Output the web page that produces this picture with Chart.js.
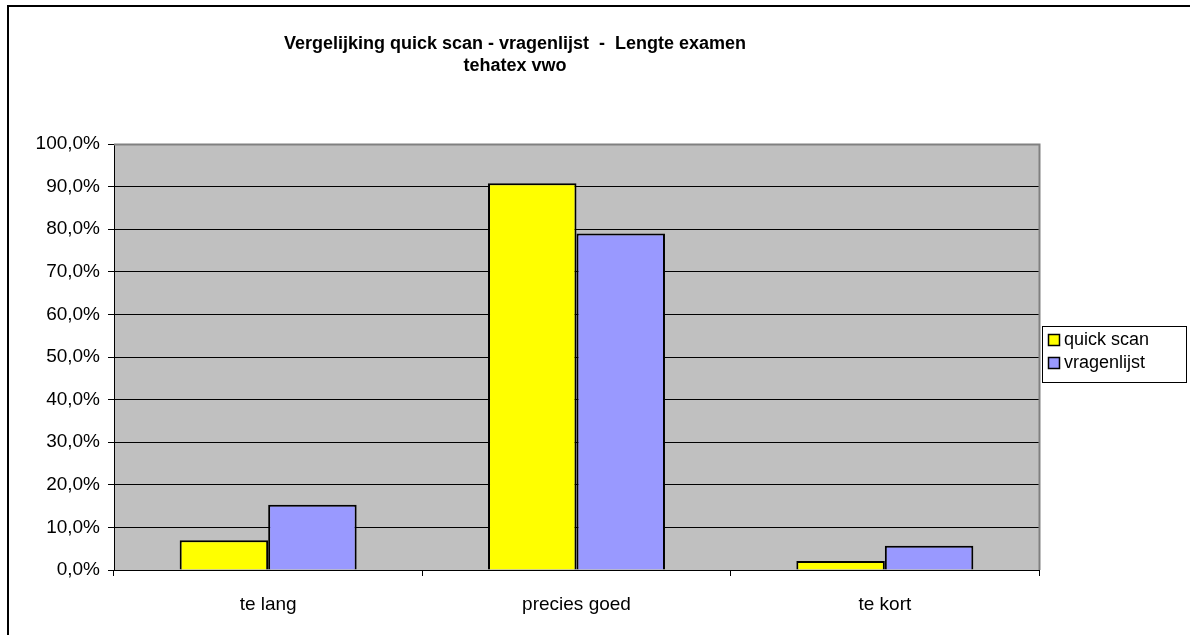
<!DOCTYPE html>
<html>
<head>
<meta charset="utf-8">
<script src="https://cdn.jsdelivr.net/npm/chart.js@4"></script>
<style>
  body { margin: 0; background: #fff; }
  canvas { display: block; }
</style>
</head>
<body>
<canvas id="chartExamen" width="1190" height="635"></canvas>
<script>
const categories = ['te lang', 'precies goed', 'te kort'];
const quickScan = [7.0, 90.8, 2.1];
const vragenlijst = [15.3, 79.0, 5.7];
const seriesNames = ['quick scan', 'vragenlijst'];
const seriesColors = ['#FFFF00', '#9999FF'];
const titleLines = ['Vergelijking quick scan - vragenlijst  -  Lengte examen', 'tehatex vwo'];

const FONT = '"Liberation Sans", Arial, sans-serif';

// fond gris de la zone de tracé + cadre, titre et légende
const excelLook = {
    id: 'excelLook',
    beforeDraw(chart) {
        const { ctx, chartArea: a } = chart;
        ctx.save();
        ctx.fillStyle = '#C0C0C0';
        ctx.fillRect(a.left, a.top, a.right - a.left, a.bottom - a.top);
        ctx.restore();
    },
    afterDraw(chart) {
        const { ctx, chartArea: a } = chart;
        ctx.save();
        ctx.strokeStyle = '#808080';
        ctx.lineWidth = 2;
        ctx.beginPath();
        ctx.moveTo(a.left, a.top + 0.5);
        ctx.lineTo(a.right + 0.5, a.top + 0.5);
        ctx.lineTo(a.right + 0.5, a.bottom);
        ctx.stroke();

        // cadre extérieur
        ctx.strokeStyle = '#000';
        ctx.lineWidth = 2;
        ctx.strokeRect(8, 6, 1300, 800);

        // titre
        ctx.fillStyle = '#000';
        ctx.font = 'bold 18px ' + FONT;
        ctx.textAlign = 'center';
        ctx.textBaseline = 'middle';
        ctx.fillText(titleLines[0], 515, 44);
        ctx.fillText(titleLines[1], 515, 66);

        // légende
        ctx.lineWidth = 1;
        ctx.strokeStyle = '#000';
        ctx.fillStyle = '#fff';
        ctx.fillRect(1042.5, 326.5, 144, 56);
        ctx.strokeRect(1042.5, 326.5, 144, 56);
        ctx.font = '18px ' + FONT;
        ctx.textAlign = 'left';
        seriesNames.forEach((name, i) => {
            const y = 340 + i * 23;
            ctx.fillStyle = seriesColors[i];
            ctx.fillRect(1048.5, y - 5.5, 11, 11);
            ctx.lineWidth = 1.5;
            ctx.strokeRect(1048.5, y - 5.5, 11, 11);
            ctx.fillStyle = '#000';
            ctx.fillText(name, 1064, y);
        });
        ctx.restore();
    }
};

const chart = new Chart(document.getElementById('chartExamen').getContext('2d'), {
    type: 'bar',
    data: {
        labels: categories,
        datasets: [{
            label: seriesNames[0],
            data: quickScan,
            backgroundColor: seriesColors[0],
            borderColor: '#000',
            borderWidth: 2,
            categoryPercentage: 0.574,
            barPercentage: 1
        }, {
            label: seriesNames[1],
            data: vragenlijst,
            backgroundColor: seriesColors[1],
            borderColor: '#000',
            borderWidth: 2,
            categoryPercentage: 0.574,
            barPercentage: 1
        }]
    },
    options: {
        responsive: false,
        animation: false,
        layout: { padding: { left: 0, top: 144, right: 151, bottom: 0 } },
        plugins: {
            legend: { display: false },
            title: { display: false },
            tooltip: { enabled: false }
        },
        scales: {
            y: {
                min: 0,
                max: 100,
                afterFit(scale) { scale.width = 114; },
                ticks: {
                    stepSize: 10,
                    padding: 8,
                    color: '#000',
                    font: { family: FONT, size: 19 },
                    callback: function (value) {
                        return value.toFixed(1).replace('.', ',') + '%';
                    }
                },
                grid: {
                    color: c => (c.tick && c.tick.value === 100 ? '#808080' : '#000'),
                    lineWidth: 1,
                    tickLength: 6,
                    tickColor: '#000'
                },
                border: { display: true, color: '#000', width: 1 }
            },
            x: {
                afterFit(scale) { scale.height = 65; },
                ticks: {
                    padding: 17,
                    color: '#000',
                    font: { family: FONT, size: 19 }
                },
                grid: {
                    offset: true,
                    drawOnChartArea: false,
                    tickLength: 6,
                    color: '#000'
                },
                border: { display: true, color: '#000', width: 1 }
            }
        }
    },
    plugins: [excelLook]
});
</script>
</body>
</html>
